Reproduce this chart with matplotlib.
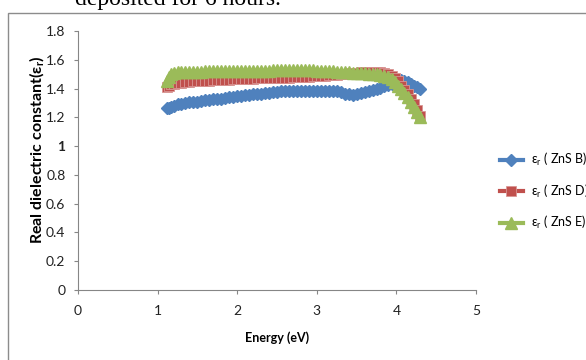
import matplotlib
matplotlib.use("Agg")
import matplotlib.pyplot as plt
import matplotlib.patches as mpatches

plt.rcParams['font.family'] = ['Lato', 'DejaVu Sans']
plt.rcParams['mathtext.default'] = 'regular'

# Energy grid (eV)
energy = [1.12, 1.14, 1.17, 1.20, 1.25, 1.30, 1.35, 1.40, 1.45, 1.50,
          1.55, 1.60, 1.65, 1.70, 1.75, 1.80, 1.85, 1.90, 1.95, 2.00,
          2.05, 2.10, 2.15, 2.20, 2.25, 2.30, 2.35, 2.40, 2.45, 2.50,
          2.55, 2.60, 2.65, 2.70, 2.75, 2.80, 2.85, 2.90, 2.95, 3.00,
          3.05, 3.10, 3.15, 3.20, 3.25, 3.30, 3.35, 3.40, 3.45, 3.50,
          3.55, 3.60, 3.65, 3.70, 3.75, 3.80, 3.85, 3.90, 3.94, 3.98,
          4.02, 4.06, 4.10, 4.14, 4.18, 4.22, 4.26, 4.30]

# Real dielectric constant, ZnS B
eps_b = [1.265, 1.268, 1.275, 1.280, 1.290, 1.295, 1.300, 1.305, 1.310, 1.310,
         1.315, 1.320, 1.320, 1.325, 1.330, 1.330, 1.335, 1.340, 1.340, 1.345,
         1.350, 1.355, 1.355, 1.360, 1.360, 1.365, 1.370, 1.370, 1.375, 1.375,
         1.380, 1.385, 1.385, 1.385, 1.385, 1.380, 1.385, 1.380, 1.385, 1.380,
         1.385, 1.380, 1.380, 1.385, 1.380, 1.375, 1.365, 1.360, 1.355, 1.360,
         1.370, 1.375, 1.380, 1.390, 1.400, 1.405, 1.415, 1.425, 1.435, 1.445,
         1.455, 1.460, 1.455, 1.445, 1.430, 1.420, 1.410, 1.395]

# Real dielectric constant, ZnS D
eps_d = [1.410, 1.420, 1.430, 1.435, 1.440, 1.440, 1.445, 1.445, 1.450, 1.450,
         1.452, 1.455, 1.455, 1.457, 1.458, 1.460, 1.460, 1.462, 1.463, 1.465,
         1.465, 1.467, 1.468, 1.468, 1.470, 1.470, 1.472, 1.472, 1.473, 1.474,
         1.475, 1.475, 1.476, 1.477, 1.478, 1.480, 1.481, 1.482, 1.484, 1.485,
         1.487, 1.489, 1.491, 1.494, 1.497, 1.500, 1.503, 1.506, 1.508, 1.510,
         1.512, 1.514, 1.515, 1.515, 1.516, 1.515, 1.510, 1.500, 1.490, 1.470,
         1.450, 1.420, 1.390, 1.360, 1.330, 1.290, 1.250, 1.210]

# Real dielectric constant, ZnS E
eps_e = [1.450, 1.480, 1.500, 1.510, 1.515, 1.515, 1.516, 1.517, 1.517, 1.518,
         1.518, 1.519, 1.519, 1.520, 1.520, 1.520, 1.521, 1.521, 1.522, 1.522,
         1.522, 1.523, 1.523, 1.524, 1.524, 1.524, 1.525, 1.525, 1.526, 1.526,
         1.527, 1.527, 1.528, 1.528, 1.529, 1.530, 1.529, 1.528, 1.527, 1.525,
         1.524, 1.523, 1.522, 1.520, 1.518, 1.516, 1.514, 1.512, 1.510, 1.508,
         1.506, 1.505, 1.503, 1.500, 1.498, 1.495, 1.490, 1.480, 1.465, 1.445,
         1.420, 1.395, 1.370, 1.340, 1.310, 1.275, 1.240, 1.200]

labels = ['ε$_r$ ( ZnS B)', 'ε$_r$ ( ZnS D)', 'ε$_r$ ( ZnS E)']
xticks = [0, 1, 2, 3, 4, 5]
yticks = [0, 0.2, 0.4, 0.6, 0.8, 1, 1.2, 1.4, 1.6, 1.8]
ytick_labels = ['0', '0.2', '0.4', '0.6', '0.8', '1', '1.2', '1.4', '1.6', '1.8']

fig = plt.figure(figsize=(5.86, 3.6), dpi=100)
ax = fig.add_axes([78 / 586, 1 - 290 / 360, 398 / 586, 259 / 360])

ax.plot(energy, eps_b, marker='D', markersize=6.5, color='#4F81BD', lw=3, label=labels[0])
ax.plot(energy, eps_d, marker='s', markersize=7, color='#C0504D', mec='#D99694', mew=0.6,
        lw=3, label=labels[1])
ax.plot(energy, eps_e, marker='^', markersize=8, color='#9BBB59', lw=3, label=labels[2])

ax.set_xlim(0, 5)
ax.set_ylim(0, 1.8)
ax.set_xticks(xticks)
ax.set_yticks(yticks)
ax.set_yticklabels(ytick_labels)
for t in ax.get_yticklabels():
    if t.get_text() == '1':
        t.set_fontweight('bold')

for s in ['top', 'right']:
    ax.spines[s].set_visible(False)
for s in ['left', 'bottom']:
    ax.spines[s].set_color('#868686')
    ax.spines[s].set_linewidth(0.8)
ax.tick_params(axis='both', direction='out', length=3, width=0.8, color='#868686',
               labelsize=10, labelcolor='#222222')
ax.tick_params(axis='x', pad=8)
ax.tick_params(axis='y', pad=6)

ax.set_xlabel('Energy (eV)', fontsize=9, fontweight='bold')
ax.xaxis.set_label_coords(0.5, -0.16)
ax.set_ylabel('Real dielectric constant(ε$_r$)', fontsize=11.5, fontweight='bold', va='center')
ax.yaxis.set_label_coords(-0.103, 0.54)

fig.legend(loc='upper left', bbox_to_anchor=(500 / 586, 1 - 151 / 360), frameon=False,
           fontsize=9, handlelength=1.8, handletextpad=0.7, labelspacing=1.15,
           borderpad=0, borderaxespad=0)

# outer chart frame (cut off at right and bottom)
fig.add_artist(mpatches.Rectangle((8 / 586, -0.2), 2, 1.2 - 13 / 360, transform=fig.transFigure,
                                  fill=False, edgecolor='#8c8c8c', lw=1))

fig.text(75 / 586, 1 - 5 / 360, 'deposited for 6 hours.', family='Liberation Serif',
         fontsize=17, va='baseline')

fig.savefig('out.png', dpi=100)
